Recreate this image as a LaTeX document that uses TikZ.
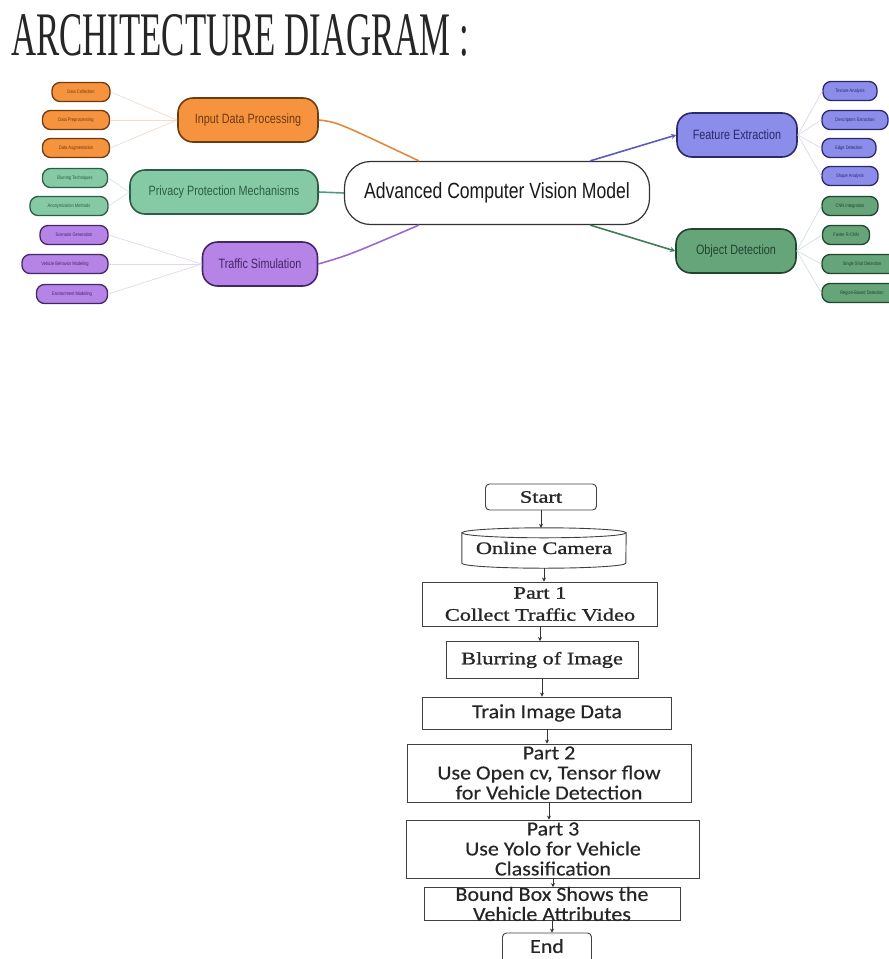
\documentclass[tikz,border=0pt]{standalone}
\usepackage{fontspec}
\usepackage{graphicx}
\setmainfont{Liberation Serif}
\newfontfamily\mapfont[FakeStretch=0.8]{Liberation Sans}
\newfontfamily\flowserif[FakeStretch=1.28,FakeBold=1.2]{Liberation Serif}
\newfontfamily\flowsans[FakeStretch=1.1,FakeBold=0.4]{Carlito}
\usetikzlibrary{arrows.meta}

\definecolor{orng}{HTML}{F5933F}
\definecolor{orngdk}{HTML}{6E3A12}
\definecolor{orngln}{HTML}{E08A3C}
\definecolor{ornglt}{HTML}{EEDCCD}
\definecolor{grn}{HTML}{86C9A5}
\definecolor{grndk}{HTML}{2C5E45}
\definecolor{grnln}{HTML}{4F9C7A}
\definecolor{grnlt}{HTML}{D3E6DB}
\definecolor{prpl}{HTML}{B683E6}
\definecolor{prpldk}{HTML}{432767}
\definecolor{prplln}{HTML}{9A6AD0}
\definecolor{prpllt}{HTML}{E2D7EC}
\definecolor{blu}{HTML}{8C8CEB}
\definecolor{bludk}{HTML}{2A2A68}
\definecolor{bluln}{HTML}{5B5BB8}
\definecolor{blult}{HTML}{D8D8EE}
\definecolor{dgrn}{HTML}{66A47A}
\definecolor{dgrndk}{HTML}{21452D}
\definecolor{dgrnln}{HTML}{3E7D55}
\definecolor{dgrnlt}{HTML}{D0E2D6}

\tikzset{
  branch/.style={draw=#1dk, fill=#1, line width=1.6pt, rounded corners=15pt, minimum height=44pt, inner sep=0pt, text=#1dk, font=\mapfont\fontsize{13.5}{14}\selectfont},
  leaf/.style={draw=#1dk, fill=#1, line width=1.3pt, rounded corners=8pt, minimum height=19pt, inner sep=0pt, text=#1dk, font=\mapfont\fontsize{5}{5}\selectfont},
  mainline/.style={draw=#1, line width=1.6pt},
  leafline/.style={draw=#1, line width=0.7pt},
  fbox/.style={draw=black!75, line width=0.9pt, align=center, inner sep=0pt, text=black!85},
  serifbox/.style={fbox, font=\flowserif\fontsize{17.5}{22}\selectfont},
  sansbox/.style={fbox, font=\flowsans\fontsize{20}{20}\selectfont},
  farrow/.style={draw=black!80, line width=0.9pt, -{Stealth[length=4pt,width=4pt]}}
}

\begin{document}
\begin{tikzpicture}[x=1pt,y=-1pt]
\useasboundingbox (0,0) rectangle (889,959);

\node[anchor=north west,inner sep=0pt,text=black!85] (title) at (11,14) {\resizebox{458pt}{41pt}{ARCHITECTURE DIAGRAM :}};

\node[draw=black!80, line width=1.2pt, fill=white, rounded corners=26pt, minimum width=305pt, minimum height=63pt, text=black!90, font=\mapfont\fontsize{22}{22}\selectfont] (ctr) at (497,193) {Advanced Computer Vision Model};

\node[branch=orng, minimum width=140pt] (inp) at (248,120) {Input Data Processing};
\node[branch=grn, minimum width=188pt] (ppm) at (224,192) {Privacy Protection Mechanisms};
\node[branch=prpl, minimum width=115pt] (trs) at (260,264) {Traffic Simulation};
\node[branch=blu, minimum width=120pt] (fex) at (737,135) {Feature Extraction};
\node[branch=dgrn, minimum width=120pt] (odt) at (736,251) {Object Detection};

\node[leaf=orng, minimum width=58pt] (inp1) at (81,92) {Data Collection};
\node[leaf=orng, minimum width=67pt] (inp2) at (76,120) {Data Preprocessing};
\node[leaf=orng, minimum width=67pt] (inp3) at (76,148) {Data Augmentation};
\node[leaf=grn, minimum width=65pt] (ppm1) at (75,178) {Blurring Techniques};
\node[leaf=grn, minimum width=78pt] (ppm2) at (69,206) {Anonymization Methods};
\node[leaf=prpl, minimum width=68pt] (trs1) at (74,235) {Scenario Generation};
\node[leaf=prpl, minimum width=86pt] (trs2) at (65,264) {Vehicle Behavior Modeling};
\node[leaf=prpl, minimum width=71pt] (trs3) at (72,294) {Environment Modeling};
\node[leaf=blu, minimum width=54pt] (fex1) at (850,91) {Texture Analysis};
\node[leaf=blu, minimum width=66pt] (fex2) at (855,120) {Descriptors Extraction};
\node[leaf=blu, minimum width=54pt] (fex3) at (849,148) {Edge Detection};
\node[leaf=blu, minimum width=56pt] (fex4) at (850,176) {Shape Analysis};
\node[leaf=dgrn, minimum width=56pt] (odt1) at (850,206) {CNN Integration};
\node[leaf=dgrn, minimum width=47pt] (odt2) at (846,235) {Faster R-CNN};
\node[leaf=dgrn, minimum width=80pt] (odt3) at (862,264) {Single Shot Detection};
\node[leaf=dgrn, minimum width=80pt] (odt4) at (862,293) {Region-Based Detection};

\draw[mainline=orngln] (inp.east) .. controls +(18,2) .. ([xshift=75pt]ctr.north west);
\draw[mainline=grnln] (ctr.west) -- (ppm.east);
\draw[mainline=prplln] ([xshift=75pt]ctr.south west) .. controls +(-70,30) .. (trs.east);
\draw[mainline=bluln, -{Stealth[length=5pt,width=5pt]}] ([xshift=-60pt]ctr.north east) -- (fex.west);
\draw[mainline=dgrnln, -{Stealth[length=5pt,width=5pt]}] ([xshift=-60pt]ctr.south east) -- (odt.west);

\foreach \n in {inp1,inp2,inp3} \draw[leafline=ornglt] (\n.east) -- (inp.west);
\foreach \n in {ppm1,ppm2} \draw[leafline=grnlt] (\n.east) -- (ppm.west);
\foreach \n in {trs1,trs2,trs3} \draw[leafline=prpllt] (\n.east) -- (trs.west);
\foreach \n in {fex1,fex2,fex3,fex4} \draw[leafline=blult] (fex.east) -- (\n.west);
\foreach \n in {odt1,odt2,odt3,odt4} \draw[leafline=dgrnlt] (odt.east) -- (\n.west);

\node[serifbox, rounded corners=4pt, minimum width=111pt, minimum height=26pt] (start) at (541,497) {Start};
\node[font=\flowserif\fontsize{17.5}{22}\selectfont, text=black!85, minimum width=164pt, minimum height=40pt, inner sep=0pt] (cam) at (544,548) {\raisebox{-3pt}{Online Camera}};
\draw[draw=black!75, line width=0.9pt] ([yshift=-5pt]cam.north) ellipse [x radius=82pt, y radius=5pt];
\draw[draw=black!75, line width=0.9pt] ([yshift=-5pt]cam.north west) -- ([yshift=5pt]cam.south west) arc[start angle=180, end angle=360, x radius=82pt, y radius=5pt] -- ([yshift=-5pt]cam.north east);
\node[serifbox, minimum width=235pt, minimum height=44pt] (p1) at (540,604) {Part 1\\Collect Traffic Video};
\node[serifbox, minimum width=192pt, minimum height=37pt] (blur) at (542,660) {Blurring of Image};
\node[sansbox, minimum width=249pt, minimum height=32pt] (train) at (547,713) {Train Image Data};
\node[sansbox, minimum width=284pt, minimum height=58pt] (p2) at (549,773) {Part 2\\Use Open cv, Tensor flow\\for Vehicle Detection};
\node[sansbox, minimum width=293pt, minimum height=58pt] (p3) at (553,849) {Part 3\\Use Yolo for Vehicle\\Classification};
\node[fbox, minimum width=256pt, minimum height=33pt] (bbx) at (552,904) {};
\node[font=\flowsans\fontsize{20}{20}\selectfont, text=black!85, align=center, inner sep=0pt] (bbxt) at (bbx) {Bound Box Shows the\\Vehicle Attributes};
\node[sansbox, rounded corners=4pt, minimum width=89pt, minimum height=34pt, text depth=8pt] (end) at (547,950) {End};

\draw[farrow] (start.south) -- (start.south |- cam.north);
\draw[farrow] (cam.south) -- (cam.south |- p1.north);
\draw[farrow] (p1.south) -- (p1.south |- blur.north);
\draw[farrow] (blur.south) -- (blur.south |- train.north);
\draw[farrow] (train.south) -- (train.south |- p2.north);
\draw[farrow] (p2.south) -- (p2.south |- p3.north);
\draw[farrow] (p3.south) -- (p3.south |- bbx.north);
\draw[farrow] (bbx.south) -- (bbx.south |- end.north);
\end{tikzpicture}
\end{document}
